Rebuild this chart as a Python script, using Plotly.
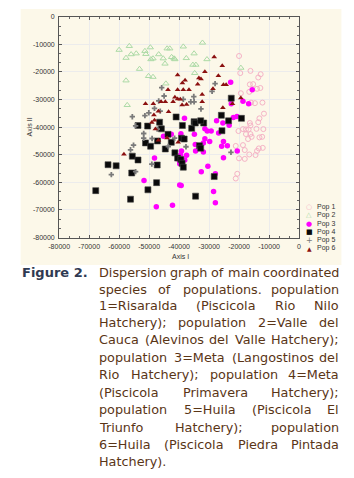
import plotly.graph_objects as go

# ---------------- data (Axis I, Axis II) ----------------
pop1_x = [-20000, -19600, -16200, -12800, -13600, -16400, -15300, -14000, -12900, -16600,
          -19400, -16000, -14700, -12200, -11700, -13200, -13600, -16400, -16200, -17700,
          -16800, -14200, -17700, -16200, -15800, -13200, -12300, -20200, -18700, -11900,
          -17000, -21100, -18700, -18100, -16600, -14500, -12100, -13400, -14000, -20000,
          -18100, -20600, -21100]
pop1_y = [-14200, -20400, -19600, -20800, -22000, -24500, -24400, -26100, -25800, -27200,
          -27700, -31100, -31300, -31100, -35100, -36800, -38200, -38500, -39400, -40800,
          -40800, -40600, -42500, -42500, -43500, -43700, -43500, -41400, -40700, -40700,
          -44300, -46800, -46500, -48300, -49900, -50100, -47500, -47700, -48600, -51300,
          -51500, -56900, -58600]

pop2_x = [-60000, -56600, -56000, -54300, -57700, -51400, -51100, -49600, -49400, -48700,
          -46800, -45300, -44000, -43100, -42500, -41700, -44700, -53200, -50200, -48700,
          -57700, -44400, -57300, -38600, -41400, -37600, -35000, -35400, -34400, -34800,
          -30700, -32200, -19400]
pop2_y = [-12000, -10600, -13600, -13300, -14900, -12400, -13500, -11100, -15400, -15100,
          -13600, -15100, -11500, -11500, -14600, -15100, -17000, -18900, -21500, -21800,
          -23100, -24200, -32000, -10800, -15400, -15000, -13300, -17400, -17400, -20400,
          -15400, -9400, -18500]

pop3_x = [-22800, -15600, -22600, -18700, -16800, -21900, -20700, -27500, -25400, -23300,
          -38200, -31400, -30600, -29300, -26800, -34900, -39400, -42600, -45200, -31400,
          -31900, -29800, -34500, -31900, -39200, -37500, -38100, -39800, -40000, -48200,
          -51700, -39800, -39300, -30400, -32600, -27900, -28500, -27900, -42200, -47600,
          -25200, -23900, -25800, -20600, -25200, -39500, -34600]
pop3_y = [-23700, -26400, -31500, -30600, -31500, -36500, -36100, -37700, -38500, -39300,
          -36800, -40600, -41400, -41400, -42100, -42600, -42400, -42600, -43300, -44200,
          -45700, -45200, -48600, -49000, -48600, -50200, -51900, -53300, -51900, -51200,
          -59300, -61000, -61100, -54200, -56200, -56900, -63300, -67400, -68300, -68800,
          -45200, -46700, -46900, -48600, -51100, -50100, -46300]

pop4_x = [-63700, -61000, -55600, -53700, -55800, -67800, -56200, -50400, -47500, -47300,
          -51200, -49500, -47200, -44600, -42600, -43700, -39200, -38300, -41400, -40500,
          -39400, -39000, -38600, -34500, -33200, -32800, -28300, -22600, -25900, -23500,
          -19200, -31800, -41000, -38900, -35800, -35000, -34600, -25700, -46500, -50500,
          -32800, -45900, -53700]
pop4_y = [-53600, -54000, -50500, -51900, -56600, -63000, -66100, -62700, -60100, -53700,
          -45700, -46900, -45000, -47900, -45500, -42600, -44000, -44300, -49300, -51200,
          -51700, -53100, -54500, -65000, -46700, -47600, -57900, -29500, -35700, -37700,
          -36800, -38500, -36300, -39400, -40400, -38000, -38500, -41300, -38200, -39600,
          -37700, -40600, -39400]

pop5_x = [-45800, -45000, -46800, -48200, -50100, -51400, -55600, -54500, -46300, -35100,
          -36100, -35000, -32700, -28000, -29000, -38600, -51800, -51800, -55200, -56200,
          -43600, -49100, -54500, -62600, -37700, -22700, -49000, -47300, -41500]
pop5_y = [-25700, -28700, -30500, -33200, -34800, -35800, -36200, -39500, -34200, -28900,
          -30800, -30800, -33400, -24200, -27000, -29900, -42300, -44000, -46500, -48200,
          -47000, -53400, -56100, -57200, -47100, -49100, -44100, -40700, -44000]

pop6_x = [-28300, -25600, -26900, -40500, -38000, -38900, -33400, -32700, -31400, -43700,
          -40500, -38600, -36700, -33800, -32300, -28700, -41400, -40500, -39600, -42000,
          -46000, -44600, -37500, -39000, -48600, -51200, -32300, -46900, -43500, -48400,
          -48200, -49100, -25200, -24300, -19400, -22200, -25400, -47900, -58400, -44000,
          -46900, -40300]
pop6_y = [-14600, -17700, -21400, -21100, -23000, -24000, -22200, -22500, -19900, -26400,
          -26400, -26400, -26400, -24400, -28200, -26100, -29200, -29800, -29900, -30800,
          -30800, -30800, -31800, -32000, -31500, -31500, -30800, -34200, -34400, -35600,
          -37500, -38300, -24600, -24600, -29400, -31500, -33000, -40700, -49800, -43900,
          -44700, -45500]

series_names = ["Pop 1", "Pop 2", "Pop 3", "Pop 4", "Pop 5", "Pop 6"]
x_ticks = [-80000, -70000, -60000, -50000, -40000, -30000, -20000, -10000, 0]
x_tick_labels = ["-80000", "-70000", "-60000", "-50000", "-40000", "-30000", "-20000", "-10000", "0"]
y_ticks = [0, -10000, -20000, -30000, -40000, -50000, -60000, -70000, -80000]
y_tick_labels = ["0", "-10000", "-20000", "-30000", "-40000", "-50000", "-60000", "-70000", "-80000"]

caption_head = "Figure 2."
caption_lines = [
    "Dispersion graph of main coordinated",
    "species of populations. population",
    "1=Risaralda (Piscicola Rio Nilo",
    "Hatchery); population 2=Valle del",
    "Cauca (Alevinos del Valle Hatchery);",
    "population 3=Meta (Langostinos del",
    "Rio Hatchery); population 4=Meta",
    "(Piscicola Primavera Hatchery);",
    "population 5=Huila (Piscicola El",
    "Triunfo Hatchery); population",
    "6=Huila (Piscicola Piedra Pintada",
    "Hatchery).",
]

# ---------------- styling / layout ----------------
W, H = 354, 478
def px(x):
    return x / W
def py(y):
    return 1 - y / H

# approximate DejaVu Sans advance widths (em) for justification of the caption
DJV = {' ': .318, '(': .390, ')': .390, ';': .337, '.': .318, '=': .838,
       '1': .636, '2': .636, '3': .636, '4': .636, '5': .636, '6': .636,
       'A': .684, 'C': .698, 'D': .770, 'E': .632, 'F': .575, 'H': .752, 'I': .295,
       'L': .557, 'M': .863, 'N': .748, 'P': .603, 'R': .695, 'T': .611, 'V': .684,
       'a': .613, 'b': .635, 'c': .550, 'd': .635, 'e': .615, 'f': .352, 'g': .635,
       'h': .634, 'i': .278, 'k': .579, 'l': .278, 'm': .974, 'n': .634, 'o': .612,
       'p': .635, 'r': .411, 's': .521, 't': .392, 'u': .634, 'v': .592, 'w': .818,
       'y': .592}
def text_w(s, size):
    return sum(DJV.get(ch, .6) for ch in s) * size * 1.02

styles = [
    dict(symbol="circle-open", size=5, color="#f5b3c6", line=dict(width=1, color="#f5b3c6")),
    dict(symbol="triangle-up-open", size=5.5, color="#acdaa6", line=dict(width=1, color="#acdaa6")),
    dict(symbol="circle", size=5.5, color="#ff00ff", line=dict(width=0)),
    dict(symbol="square", size=6, color="#0a0a0a", line=dict(width=0.6, color="#444")),
    dict(symbol="cross", size=4.5, color="#7a7a7a", line=dict(width=0)),
    dict(symbol="triangle-up", size=5, color="#8b1010", line=dict(width=0)),
]
all_x = [pop1_x, pop2_x, pop3_x, pop4_x, pop5_x, pop6_x]
all_y = [pop1_y, pop2_y, pop3_y, pop4_y, pop5_y, pop6_y]

fig = go.Figure()
for name, xs, ys, st in zip(series_names, all_x, all_y, styles):
    fig.add_trace(go.Scatter(x=xs, y=ys, mode="markers", name=name, marker=st,
                             showlegend=False, hoverinfo="x+y+name"))

tick_font = dict(family="Liberation Sans, Arial, sans-serif", size=7, color="#333333")
axis_common = dict(showline=True, linecolor="#555555", linewidth=1, mirror="allticks",
                   ticks="inside", ticklen=3, tickcolor="#555555", tickwidth=1,
                   showgrid=True, gridcolor="#ececec", gridwidth=1, zeroline=False,
                   tickfont=tick_font,
                   minor=dict(ticks="inside", ticklen=2, dtick=10000 / 3, tickcolor="#666666",
                              showgrid=False))

fig.update_layout(
    width=W, height=H,
    margin=dict(l=0, r=0, t=0, b=0),
    paper_bgcolor="white", plot_bgcolor="white",
    showlegend=False,
    xaxis=dict(axis_common, range=[-80000, 0], domain=[px(50), px(299)],
               tickvals=x_ticks, ticktext=x_tick_labels, ticklabelstandoff=2),
    yaxis=dict(axis_common, range=[-80000, 0], domain=[py(237), py(13)],
               tickvals=y_ticks, ticktext=y_tick_labels, ticklabelstandoff=2),
    shapes=[dict(type="rect", xref="paper", yref="paper", x0=px(10), x1=px(343),
                 y0=py(265), y1=py(5), fillcolor="#fcf8e9", line=dict(width=0), layer="below")],
)

ann = []
def add_text(text, x, y, font, xanchor="center", angle=0):
    ann.append(dict(text=text, x=px(x), y=py(y), xref="paper", yref="paper",
                    xanchor=xanchor, yanchor="middle", showarrow=False, font=font,
                    textangle=angle, borderpad=0, borderwidth=0))

small_font = dict(family="Liberation Sans, Arial", size=7, color="#333")
add_text("Axis I", 176, 256.5, small_font)
add_text("Axis II", 19, 125, small_font, angle=-90)

# legend (symbol glyphs + labels)
leg_glyphs = ["○", "△", "●", "■", "+", "▲"]
leg_colors = ["#f5b3c6", "#acdaa6", "#ff00ff", "#0a0a0a", "#7a7a7a", "#8b1010"]
leg_sizes = [7, 7, 7, 7, 8, 6]
for i, (g, c, s, name) in enumerate(zip(leg_glyphs, leg_colors, leg_sizes, series_names)):
    yy = 206 + i * 8.4
    add_text(g, 309.5, yy, dict(family="DejaVu Sans", size=s, color=c))
    add_text(name, 317.5, yy, small_font, xanchor="left")

# caption
cap_size = 12.8
cap_font = dict(family="DejaVu Sans, Verdana, sans-serif", size=cap_size, color="#5a3516")
add_text("<b>" + caption_head + "</b>", 11, 272,
         dict(family="DejaVu Sans, Verdana, sans-serif", size=13, color="#2f3a52"),
         xanchor="left")
left_edge, right_edge = 91.5, 341.0
line_y = [272, 289.4, 306.3, 323.5, 340.6, 358.6, 376.4, 394, 411.6, 429.4, 446.8, 464]
for li, (line, yy) in enumerate(zip(caption_lines, line_y)):
    words = line.split(" ")
    last = li == len(caption_lines) - 1
    if last or len(words) == 1:
        add_text(line, left_edge, yy, cap_font, xanchor="left")
        continue
    widths = [text_w(w, cap_size) for w in words]
    gap = (right_edge - left_edge - sum(widths)) / (len(words) - 1)
    xx = left_edge
    for k, (w, wd) in enumerate(zip(words, widths)):
        if k == len(words) - 1:
            add_text(w, right_edge, yy, cap_font, xanchor="right")
        else:
            add_text(w, xx, yy, cap_font, xanchor="left")
        xx += wd + gap
fig.update_layout(annotations=ann)

# remove the browser's default page margin so the figure sits at the window origin
fig.write_html("out.html", config={"displayModeBar": False},
               post_script="document.body.style.margin='0px';document.body.style.padding='0px';")
